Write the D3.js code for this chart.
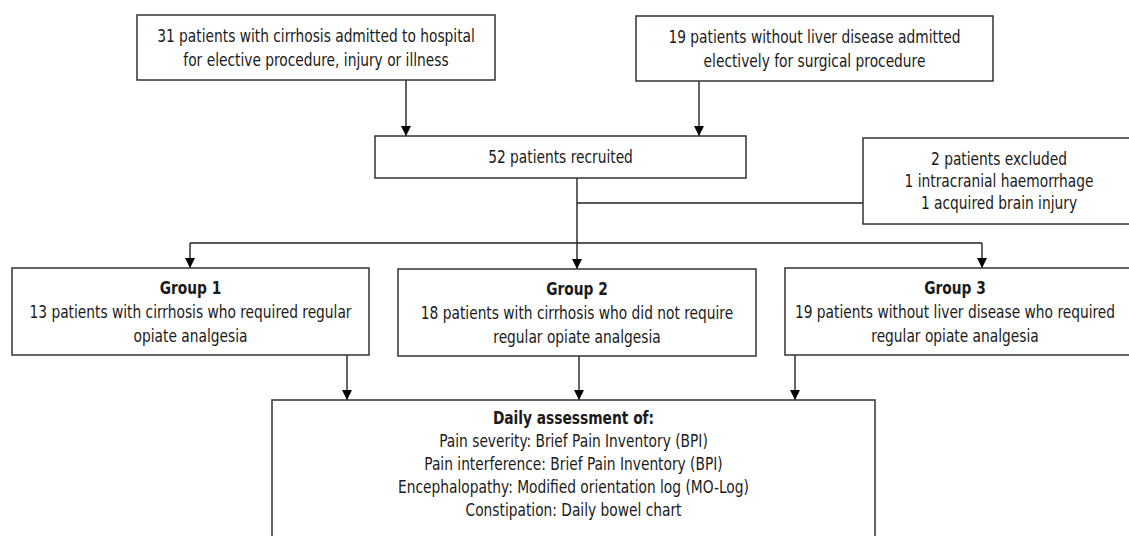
<!DOCTYPE html>
<html>
<head>
<meta charset="utf-8">
<script src="https://cdn.jsdelivr.net/npm/d3@7"></script>
<style>
  html, body { margin: 0; padding: 0; background: #fff; }
  svg text { font-family: "Liberation Sans Narrow", "DejaVu Sans Condensed", "Arial Narrow", sans-serif; fill: #1a1a1a; }
</style>
</head>
<body>
<svg id="chart" width="1129" height="536"></svg>
<script>
// box texts (first line bold where noted)
var sourceCirrhosis = ["31 patients with cirrhosis admitted to hospital", "for elective procedure, injury or illness"];
var sourceNoLiver = ["19 patients without liver disease admitted", "electively for surgical procedure"];
var recruited = ["52 patients recruited"];
var excluded = ["2 patients excluded", "1 intracranial haemorrhage", "1 acquired brain injury"];
var group1 = ["Group 1", "13 patients with cirrhosis who required regular", "opiate analgesia"];
var group2 = ["Group 2", "18 patients with cirrhosis who did not require", "regular opiate analgesia"];
var group3 = ["Group 3", "19 patients without liver disease who required", "regular opiate analgesia"];
var assessment = ["Daily assessment of:", "Pain severity: Brief Pain Inventory (BPI)",
  "Pain interference: Brief Pain Inventory (BPI)", "Encephalopathy: Modified orientation log (MO-Log)",
  "Constipation: Daily bowel chart"];

var svg = d3.select("#chart");

// layout
var boxes = [
  {id: "src1", lines: sourceCirrhosis, x0: 137, x1: 495, y0: 15, y1: 80, gap: 24},
  {id: "src2", lines: sourceNoLiver, x0: 636, x1: 993, y0: 16, y1: 81, gap: 24},
  {id: "rec", lines: recruited, x0: 375, x1: 746, y0: 136, y1: 178, gap: 24},
  {id: "exc", lines: excluded, x0: 863, x1: 1135, y0: 138, y1: 224, gap: 22, cx: 999},
  {id: "g1", lines: group1, bold: true, x0: 12, x1: 369, y0: 268, y1: 355, gap: 24},
  {id: "g2", lines: group2, bold: true, x0: 398, x1: 756, y0: 269, y1: 356, gap: 24},
  {id: "g3", lines: group3, bold: true, x0: 785, x1: 1135, y0: 268, y1: 355, gap: 24, cx: 955},
  {id: "fin", lines: assessment, bold: true, x0: 272, x1: 875, y0: 400, y1: 560, gap: 23, ty: 418}
];

// connectors: polylines, arrow at end if arrow true
var links = [
  {pts: [[406, 80], [406, 136]], arrow: true},
  {pts: [[699, 81], [699, 136]], arrow: true},
  {pts: [[577, 178], [577, 269]], arrow: true},
  {pts: [[577, 203], [863, 203]], arrow: false},
  {pts: [[190, 243], [982, 243]], arrow: false},
  {pts: [[190, 243], [190, 268]], arrow: true},
  {pts: [[982, 243], [982, 268]], arrow: true},
  {pts: [[347, 355], [347, 400]], arrow: true},
  {pts: [[579, 356], [579, 400]], arrow: true},
  {pts: [[795, 355], [795, 400]], arrow: true}
];

// the reference uses a condensed face: keep a tall size and squeeze it horizontally
var fs = 18.5;
var probe = svg.append("text").attr("font-size", fs).text(sourceCirrhosis[0]);
var squeeze = Math.min(1, 318 / probe.node().getComputedTextLength());
probe.remove();

svg.append("defs").append("marker")
    .attr("id", "arr")
    .attr("viewBox", "0 0 10 10")
    .attr("refX", 10).attr("refY", 5)
    .attr("markerUnits", "userSpaceOnUse")
    .attr("markerWidth", 12).attr("markerHeight", 10)
    .attr("orient", "auto")
  .append("path")
    .attr("d", "M0,0 L10,5 L0,10 Z")
    .attr("fill", "#000");

var line = d3.line();

svg.append("g").selectAll("path")
  .data(links)
  .join("path")
    .attr("d", d => line(d.pts))
    .attr("fill", "none")
    .attr("stroke", "#222")
    .attr("stroke-width", 1.4)
    .attr("marker-end", d => d.arrow ? "url(#arr)" : null);

var g = svg.append("g").selectAll("g")
  .data(boxes)
  .join("g");

g.append("rect")
    .attr("x", d => d.x0)
    .attr("y", d => d.y0)
    .attr("width", d => d.x1 - d.x0)
    .attr("height", d => d.y1 - d.y0)
    .attr("fill", "#fff")
    .attr("stroke", "#333")
    .attr("stroke-width", 1.5);

g.each(function(d) {
  var cx = d.cx || (d.x0 + d.x1) / 2;
  var n = d.lines.length;
  var top = d.ty !== undefined ? d.ty : (d.y0 + d.y1) / 2 - (n - 1) * d.gap / 2;
  d3.select(this).append("g")
      .attr("transform", "translate(" + cx + ",0) scale(" + squeeze + ",1)")
    .selectAll("text")
    .data(d.lines)
    .join("text")
      .attr("x", 0)
      .attr("y", (t, i) => top + i * d.gap)
      .attr("dy", "0.35em")
      .attr("text-anchor", "middle")
      .attr("font-size", fs)
      .attr("font-weight", (t, i) => d.bold && i === 0 ? "bold" : "normal")
      .text(t => t);
});
</script>
</body>
</html>
